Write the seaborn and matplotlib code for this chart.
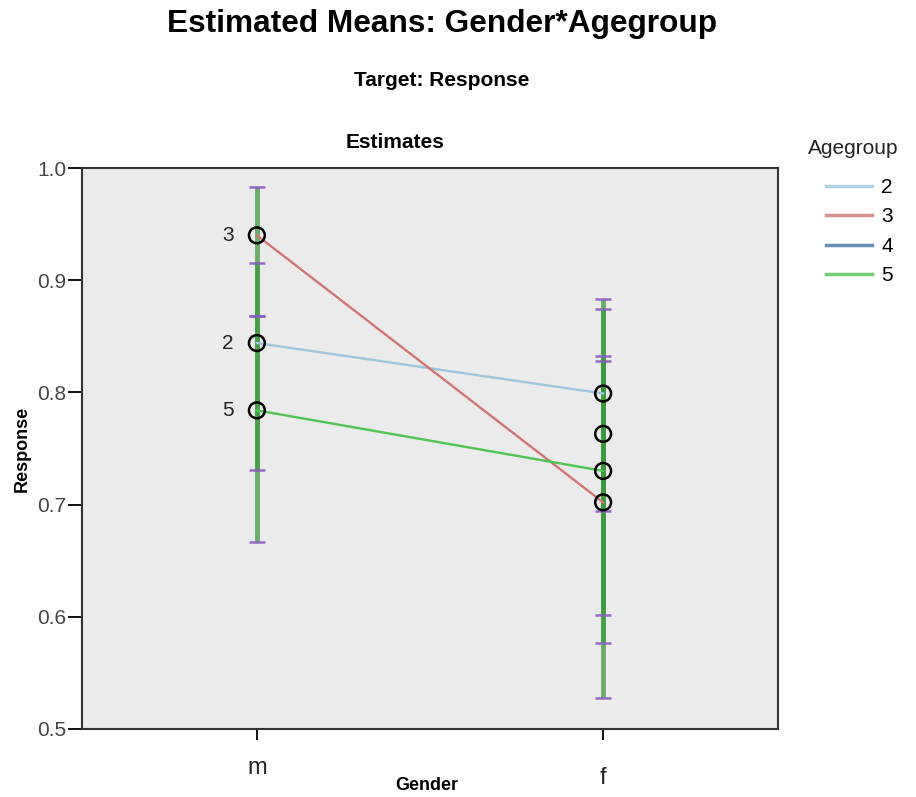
import matplotlib
matplotlib.use('Agg')
import matplotlib.pyplot as plt
import matplotlib.transforms as mtransforms
import seaborn as sns
import pandas as pd
import numpy as np

# Estimated means
gender = ['m', 'f']
agegroups = ['2', '3', '4', '5']
age2 = [0.844, 0.799]
age3 = [0.940, 0.702]
age4 = [np.nan, 0.763]
age5 = [0.784, 0.730]

# 95% CI bounds
age2_lo = [0.731, 0.694]
age2_hi = [0.915, 0.8835]
age3_lo = [0.868, 0.528]
age3_hi = [0.983, 0.828]
age4_lo = [np.nan, 0.602]
age4_hi = [np.nan, 0.8746]
age5_lo = [0.667, 0.5765]
age5_hi = [0.868, 0.832]

colors = {'2': '#9dc6dd', '3': '#d27474', '4': '#3f74a6', '5': '#4fc44f'}

rows = []
for g, m, lo, hi in zip(agegroups,
                        [age2, age3, age4, age5],
                        [age2_lo, age3_lo, age4_lo, age5_lo],
                        [age2_hi, age3_hi, age4_hi, age5_hi]):
    for i, gen in enumerate(gender):
        rows.append({'Gender': gen, 'Agegroup': g, 'Response': m[i],
                     'lo': lo[i], 'hi': hi[i]})
df = pd.DataFrame(rows)

plt.rcParams['font.family'] = ['Liberation Sans', 'DejaVu Sans']

fig = plt.figure(figsize=(9.16, 7.97), dpi=100)
ax = fig.add_axes([82 / 916, 1 - 729 / 797, (778 - 82) / 916, (729 - 168) / 797])
ax.set_facecolor('#ebebeb')

# error bars (all drawn in green with purple caps, as in the original)
ci = df.dropna()
eb = ax.errorbar(ci['Gender'], ci['Response'],
                 yerr=[ci['Response'] - ci['lo'], ci['hi'] - ci['Response']],
                 fmt='none', ecolor='#3c9a3c', elinewidth=3.5, alpha=0.75,
                 capsize=6, capthick=1.8, zorder=2)
for cap in eb[1]:
    cap.set_markeredgecolor('#8a5cc4')
    cap.set_alpha(0.9)

sns.lineplot(data=df, x='Gender', y='Response', hue='Agegroup',
             hue_order=agegroups, palette=colors, linewidth=1.7,
             ax=ax, zorder=3)
sns.scatterplot(data=df.dropna(), x='Gender', y='Response', marker='o',
                s=130, facecolor='none', edgecolor='black', linewidth=1.8,
                ax=ax, zorder=4, legend=False)

# group labels beside the points for "m"
for _, r in df[(df['Gender'] == 'm')].dropna().iterrows():
    ax.annotate(r['Agegroup'], (r['Gender'], r['Response']),
                xytext=(-21, 0), textcoords='offset points',
                ha='center', va='center', fontsize=15, color='#222222')

ax.set_xlim(-0.505, 1.505)
ax.set_ylim(0.5, 1.0)
ax.set_yticks([0.5, 0.6, 0.7, 0.8, 0.9, 1.0])
ax.set_yticklabels(['0.5', '0.6', '0.7', '0.8', '0.9', '1.0'])
ax.tick_params(axis='y', direction='out', length=10, width=1.3,
               labelsize=15, labelcolor='#444444', pad=1)
ax.tick_params(axis='x', direction='out', length=8, width=1.3,
               labelsize=17, labelcolor='#222222', pad=12)
for s in ax.spines.values():
    s.set_color('#333333')
    s.set_linewidth(1.5)

# the "f" label sits a bit lower in the original
labels = ax.get_xticklabels()
labels[1].set_transform(labels[1].get_transform() +
                        mtransforms.ScaledTranslation(0, -10 / 100, fig.dpi_scale_trans))

ax.set_xlabel('Gender', fontsize=13, fontweight='bold', va='center')
ax.xaxis.set_label_coords(0.495, (729 - 785) / 561)
ax.set_ylabel('Response', fontsize=13, fontweight='bold', va='center')
ax.yaxis.set_label_coords((22 - 82) / 696, 0.5)

fig.text(442 / 916, 1 - 24 / 797, 'Estimated Means: Gender*Agegroup',
         ha='center', va='center', fontsize=22.8, fontweight='bold')
fig.text(442 / 916, 1 - 80 / 797, 'Target: Response',
         ha='center', va='center', fontsize=15, fontweight='bold')
fig.text(395 / 916, 1 - 143 / 797, 'Estimates',
         ha='center', va='center', fontsize=15, fontweight='bold')

# legend: title placed as text, entries below it
fig.text(808 / 916, 1 - 149 / 797, 'Agegroup', ha='left', va='center',
         fontsize=15, color='#222222')
leg = ax.legend(loc='upper left',
                bbox_to_anchor=(826 / 916, 1 - 178 / 797),
                bbox_transform=fig.transFigure, frameon=False,
                fontsize=15, handlelength=2.2,
                handletextpad=0.45, labelspacing=0.5, borderaxespad=0,
                borderpad=0)
for line in leg.get_lines():
    line.set_linewidth(2.5)
    line.set_alpha(0.8)

fig.savefig('out.png', dpi=100)
